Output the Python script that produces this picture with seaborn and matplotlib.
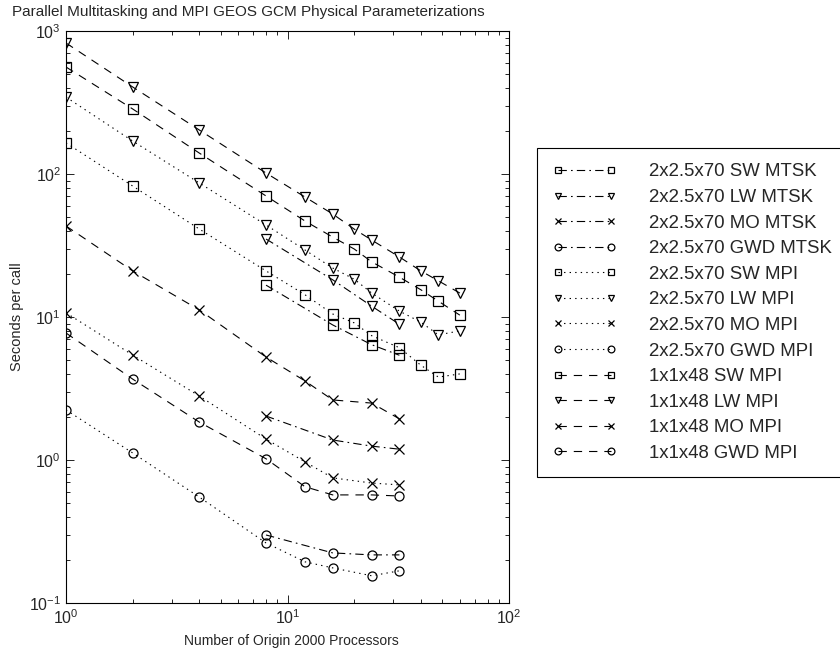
import numpy as np
import pandas as pd
import seaborn as sns
import matplotlib.pyplot as plt

# processor counts
x_full = [1, 2, 4, 8, 12, 16, 20, 24, 32, 40, 48, 60]
x_mpi = [1, 2, 4, 8, 12, 16, 24, 32]
x_mtsk = [8, 16, 24, 32]

# 2x2.5x70 multitasking
sw_mtsk = [16.7, 8.8, 6.4, 5.4]
lw_mtsk = [35.1, 18.2, 11.9, 8.9]
mo_mtsk = [2.03, 1.38, 1.25, 1.19]
gwd_mtsk = [0.299, 0.224, 0.217, 0.217]

# 2x2.5x70 MPI
sw_mpi = [165, 82.4, 41.2, 21.0, 14.3, 10.5, 9.1, 7.4, 6.1, 4.6, 3.8, 4.0]
lw_mpi = [345, 170, 86.5, 44.0, 29.4, 22.0, 18.4, 14.7, 11.0, 9.2, 7.5, 8.0]
mo_mpi = [10.7, 5.42, 2.80, 1.40, 0.97, 0.75, 0.69, 0.67]
gwd_mpi = [2.24, 1.12, 0.55, 0.263, 0.194, 0.176, 0.155, 0.168]

# 1x1x48 MPI
sw_1x1 = [560, 285, 140, 70.2, 46.9, 36.2, 29.9, 24.3, 19.0, 15.5, 12.9, 10.3]
lw_1x1 = [824, 406, 203, 101.6, 69.0, 52.5, 41.2, 34.5, 26.3, 21.0, 17.9, 14.7]
mo_1x1 = [43.3, 21.0, 11.2, 5.25, 3.57, 2.63, 2.50, 1.94]
gwd_1x1 = [7.73, 3.68, 1.84, 1.02, 0.65, 0.57, 0.57, 0.56]

dashdot = (0, (6, 3, 1.2, 3))
dotted = (0, (1, 3))
dashed = (0, (6, 5))

series = [
    ('2x2.5x70 SW MTSK', x_mtsk, sw_mtsk, 's', dashdot),
    ('2x2.5x70 LW MTSK', x_mtsk, lw_mtsk, 'v', dashdot),
    ('2x2.5x70 MO MTSK', x_mtsk, mo_mtsk, 'x', dashdot),
    ('2x2.5x70 GWD MTSK', x_mtsk, gwd_mtsk, 'o', dashdot),
    ('2x2.5x70 SW MPI', x_full, sw_mpi, 's', dotted),
    ('2x2.5x70 LW MPI', x_full, lw_mpi, 'v', dotted),
    ('2x2.5x70 MO MPI', x_mpi, mo_mpi, 'x', dotted),
    ('2x2.5x70 GWD MPI', x_mpi, gwd_mpi, 'o', dotted),
    ('1x1x48 SW MPI', x_full, sw_1x1, 's', dashed),
    ('1x1x48 LW MPI', x_full, lw_1x1, 'v', dashed),
    ('1x1x48 MO MPI', x_mpi, mo_1x1, 'x', dashed),
    ('1x1x48 GWD MPI', x_mpi, gwd_1x1, 'o', dashed),
]

sns.set_style("ticks")
plt.rcParams['font.family'] = ['Liberation Sans', 'DejaVu Sans']
plt.rcParams['lines.scale_dashes'] = False

fig = plt.figure(figsize=(8.4, 6.55), dpi=100)
ax = fig.add_axes([66 / 840, 52 / 655, 443 / 840, 572 / 655])
ax.set_xscale('log')
ax.set_yscale('log')

for label, xs, ys, mk, ls in series:
    df = pd.DataFrame({'procs': xs, 'secs': ys})
    sns.lineplot(data=df, x='procs', y='secs', ax=ax, color='black',
                 marker=mk, linestyle=ls, lw=0.8, markersize=6.5,
                 markerfacecolor='none', markeredgecolor='black',
                 markeredgewidth=0.9, label=label)

ax.set_xlim(1, 100)
ax.set_ylim(0.1, 1000)
ax.tick_params(which='both', direction='in', top=True, right=True,
               labelsize=11.5, width=0.6, color='black')
ax.tick_params(which='major', length=6)
ax.tick_params(which='minor', length=3)
for sp in ax.spines.values():
    sp.set_color('black')
    sp.set_linewidth(0.8)

ax.set_xlabel('Number of Origin 2000 Processors', fontsize=10)
ax.set_ylabel('Seconds per call', fontsize=10.5)
ax.xaxis.set_label_coords((291 - 66) / 443, (603 - 634) / 572)
ax.yaxis.set_label_coords((24 - 66) / 443, 0.5)

fig.text(248 / 840, 1 - 12 / 655,
         'Parallel Multitasking and MPI GEOS GCM Physical Parameterizations',
         ha='center', va='center', fontsize=11)

handles, labels = ax.get_legend_handles_labels()
leg = ax.legend(handles, labels, loc='upper left',
                bbox_to_anchor=(537 / 840, 1 - 148 / 655),
                bbox_transform=fig.transFigure, frameon=True, fancybox=False,
                edgecolor='black', framealpha=1, fontsize=13.4,
                handlelength=3.45, handletextpad=1.75, labelspacing=0.46,
                borderpad=0.83, borderaxespad=0, numpoints=2, markerscale=0.75)
leg.get_frame().set_linewidth(0.8)

fig.savefig('out.png', dpi=100)
